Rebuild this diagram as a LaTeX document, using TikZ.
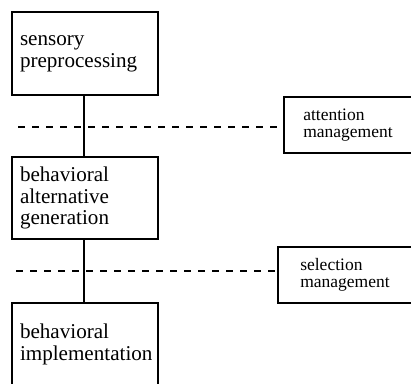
\documentclass[tikz,border=0pt]{standalone}
\usepackage{fontspec}
\setmainfont{Liberation Serif}
\usetikzlibrary{positioning}
\tikzset{
	stage/.style={draw, line width=2.8pt, rectangle, anchor=north west, outer sep=0pt,
		minimum width=146pt, inner xsep=8pt, text width=130pt, align=left,
		font=\fontsize{21.1}{21.7}\selectfont},
	manager/.style={draw, line width=2.8pt, rectangle, anchor=north west, outer sep=0pt,
		minimum height=56pt, align=left, font=\fontsize{17.5}{17}\selectfont},
	link/.style={line width=2.8pt},
	border/.style={line width=1.8pt, dash pattern=on 7pt off 7pt}
}

\begin{document}
\begin{tikzpicture}[x=1pt, y=-1pt]
			%%%%% START %%%%%
			\useasboundingbox (0, 0) rectangle (411, 383);
			
			\node[stage, minimum height=83pt] (sensory) at (12, 12) {sensory\\preprocessing};
			\node[stage, minimum height=82pt] (alternatives) at (12, 157) {behavioral\\alternative\\generation};
			\node[stage, minimum height=83pt] (implementation) at (12, 303) {behavioral\\implementation};
			
			\node[manager, minimum width=128pt, inner xsep=9pt] (attention) at (284, 97) {attention\\management};
			\node[manager, minimum width=134pt, inner xsep=13pt] (selection) at (278, 247) {selection\\management};
			
			\coordinate (attention end) at (18, 127);
			\coordinate (selection end) at (16, 271);
			
			\draw[border] (attention end) -- (attention end -| attention.west);
			\draw[border] (selection end) -- (selection end -| selection.west);
			
			\draw[link] (sensory.south -| 84, 0) -- (alternatives.north -| 84, 0);
			\draw[link] (alternatives.south -| 84, 0) -- (implementation.north -| 84, 0);
			
			%%%%% END %%%%%
		\end{tikzpicture}
\end{document}
